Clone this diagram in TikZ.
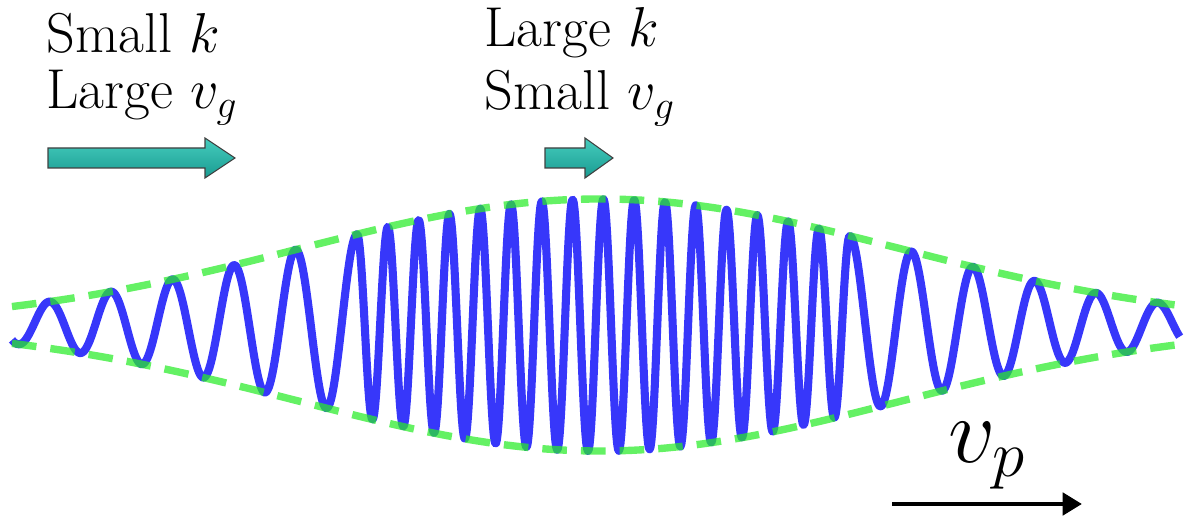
\RequirePackage{fix-cm}
\documentclass[tikz,border=0pt]{standalone}
\usetikzlibrary{arrows.meta}
\definecolor{wavblue}{RGB}{55,55,250}
\definecolor{envgreen}{RGB}{40,235,40}
\definecolor{tealtop}{RGB}{70,205,190}
\definecolor{tealbot}{RGB}{25,155,145}
\tikzset{
  declare function={
    env(\x)=2.52*exp(-((\x-12)^2)/72);
    phs(\x)=(\x<7.14) ? ((\x-7.14)/1.232*360) : ((\x>17) ? (5760+(\x-17)/1.232*360) : ((\x-7.14)/0.616*360));
  },
  wave/.style={draw=wavblue, line width=4.6pt, line join=round},
  envelope/.style={draw=envgreen, line width=4.2pt, draw opacity=0.72, dash pattern=on 14pt off 8pt},
  vgarrow/.style={draw=black!75, line width=0.6pt, top color=tealtop, bottom color=tealbot},
  lbl/.style={inner sep=0pt, anchor=base west, font=\fontsize{32}{32}\selectfont},
  biglbl/.style={inner sep=0pt, anchor=base west, font=\fontsize{53}{53}\selectfont},
  phasearrow/.style={-{Triangle[length=11pt,width=12.5pt]}, line width=2.8pt, draw=black}
}

\begin{document}
\begin{tikzpicture}
  \useasboundingbox (0,0) rectangle (23.76,10.34);

  \node[lbl] (smallk) at (0.92,9.28) {Small $k$};
  \node[lbl] (largevg) at (0.92,8.16) {Large $v_g$};
  \node[lbl] (largek) at (9.68,9.40) {Large $k$};
  \node[lbl] (smallvg) at (9.68,8.14) {Small $v_g$};

  \path[vgarrow] (0.96,6.98) -- (4.10,6.98) -- (4.10,6.78) -- (4.70,7.18) -- (4.10,7.58) -- (4.10,7.38) -- (0.96,7.38) -- cycle;
  \path[vgarrow] (10.90,6.98) -- (11.70,6.98) -- (11.70,6.78) -- (12.26,7.18) -- (11.70,7.58) -- (11.70,7.38) -- (10.90,7.38) -- cycle;

  \draw[wave] plot[domain=0.24:23.6, samples=1400] (\x,{3.84+env(\x)*cos(phs(\x))});
  \draw[envelope] plot[domain=0.24:23.64, samples=150] (\x,{3.84+env(\x)});
  \draw[envelope] plot[domain=0.24:23.64, samples=150] (\x,{3.84-env(\x)});

  \node[biglbl] (vp) at (18.96,1.08) {$v_p$};
  \coordinate (vpstart) at (17.84,0.26);
  \coordinate (vpend) at (21.64,0.26);
  \draw[phasearrow] (vpstart) -- (vpend);
\end{tikzpicture}
\end{document}
